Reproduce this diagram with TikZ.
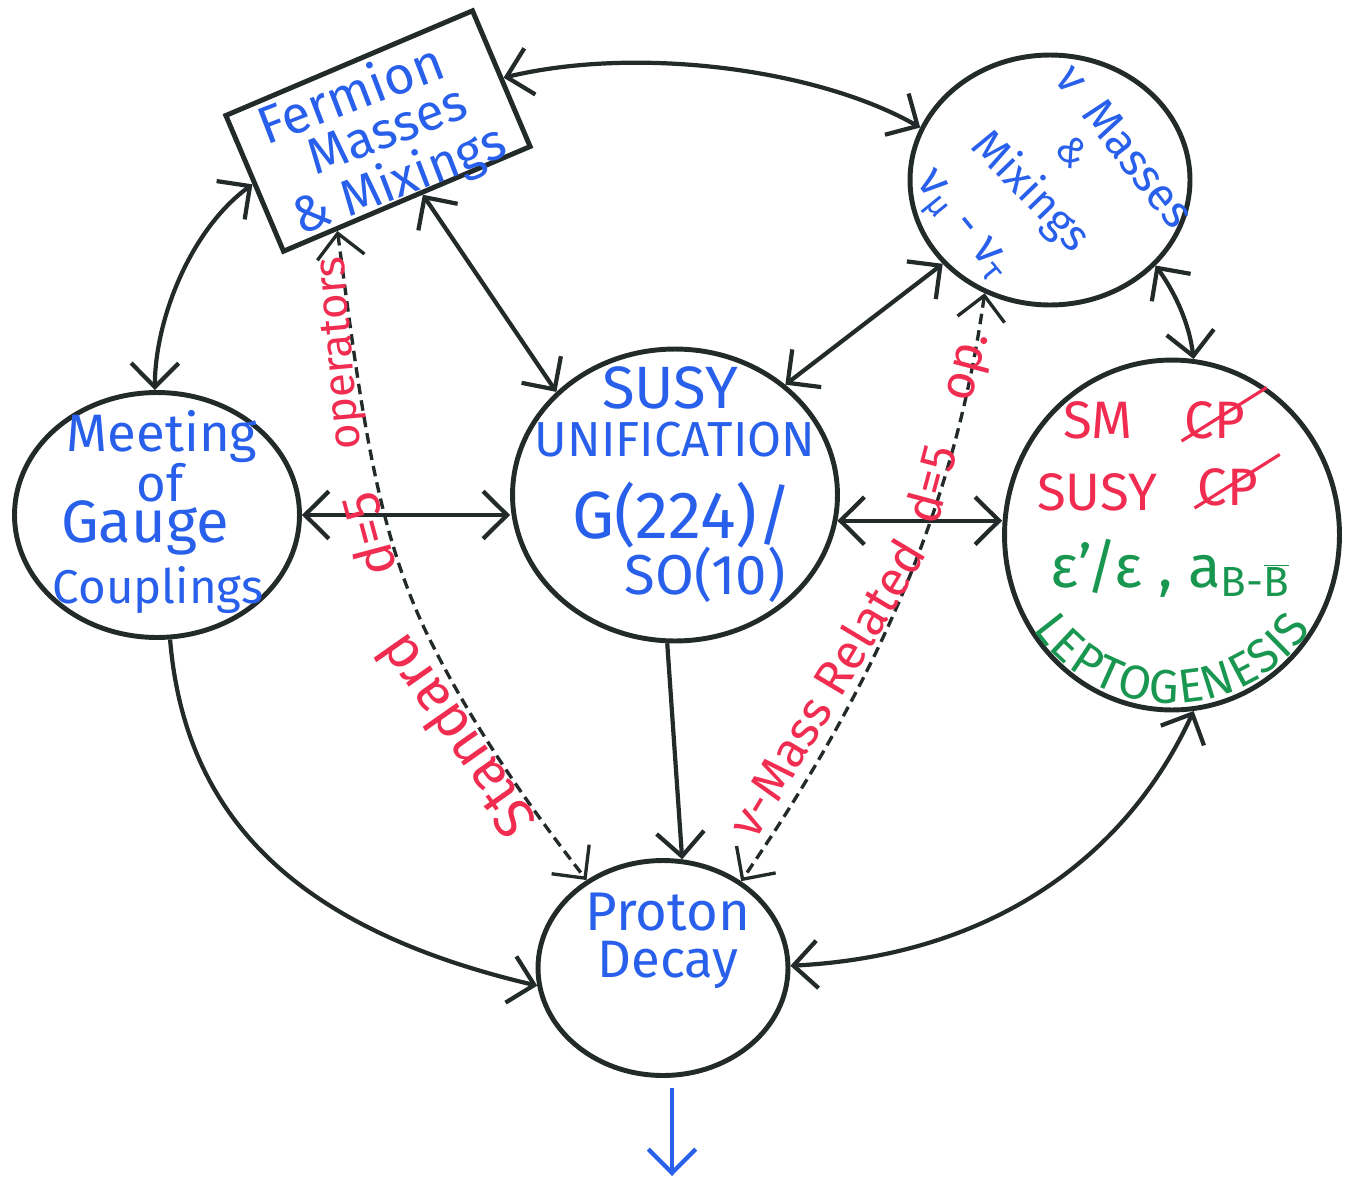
\documentclass[tikz,border=0pt]{standalone}
\usepackage{fontspec}
\setmainfont{Fira Sans}
\usetikzlibrary{arrows.meta,shapes.geometric,decorations.text,calc}
\definecolor{inkblue}{RGB}{40,95,235}
\definecolor{inkred}{RGB}{240,45,80}
\definecolor{inkgreen}{RGB}{25,150,80}
\definecolor{ink}{RGB}{35,42,42}
\newcommand\fsz[1]{\fontsize{#1}{#1}\selectfont}
\begin{document}
\begin{tikzpicture}[x=0.02cm,y=-0.02cm,
  >={Straight Barb[length=4.8mm,width=9.5mm]},
  bubble/.style={draw=ink,line width=2.8pt,ellipse,inner sep=0pt},
  boxed/.style={draw=ink,line width=2.8pt,rectangle,inner sep=0pt},
  link/.style={draw=ink,line width=2.4pt},
  dlink/.style={draw=ink,line width=1.9pt,dash pattern=on 6pt off 3.5pt},
  bt/.style={text=inkblue,inner sep=0pt},
  rt/.style={text=inkred,inner sep=0pt},
  gt/.style={text=inkgreen,inner sep=0pt},
  outarrow/.style={draw=inkblue,line width=2.4pt,->}
]
\useasboundingbox (0,0) rectangle (1363,1180);

% main nodes
\node[boxed,minimum width=5.36cm,minimum height=2.95cm,rotate=23] (ferm) at (378,131) {};
\node[bubble,minimum width=5.6cm,minimum height=5cm] (nu) at (1050,180) {};
\node[bubble,minimum width=6.5cm,minimum height=5.84cm] (susy) at (675,495) {};
\node[bubble,minimum width=5.7cm,minimum height=4.9cm] (meet) at (157,515) {};
\node[bubble,minimum width=6.7cm,minimum height=7cm] (cp) at (1172,535) {};
\node[bubble,minimum width=5cm,minimum height=4.3cm] (prot) at (663,968) {};

% fermion texts
\node[bt,rotate=21,font=\fsz{30}] (f1) at (350,92) {Fermion};
\node[bt,rotate=21,font=\fsz{29}] (f2) at (387,130) {Masses};
\node[bt,rotate=21,font=\fsz{29}] (f3) at (400,182) {\& Mixings};

% neutrino texts
\node[bt,rotate=-52,font=\fsz{26}] (n1) at (1125,146) {ν\enspace Masses};
\node[bt,rotate=-50,font=\fsz{22}] (n2) at (1073,152) {\&};
\node[bt,rotate=-46,font=\fsz{25}] (n3) at (1030,192) {Mixings};
\node[bt,rotate=-51,font=\fsz{27}] (n4) at (960,228) {ν\textsubscript{μ} - ν\textsubscript{τ}};

% susy texts
\node[bt,font=\fsz{34}] (s1) at (670,388) {SUSY};
\node[bt,font=\fsz{28}] (s2) at (675,440) {UNIFICATION};
\node[bt,font=\fsz{38}] (s3) at (682,515) {G(224)/};
\node[bt,font=\fsz{32}] (s4) at (705,575) {SO(10)};

% meeting texts
\node[bt,font=\fsz{30}] (m1) at (162,437) {Meeting};
\node[bt,font=\fsz{29}] (m2) at (160,483) {of};
\node[bt,font=\fsz{34}] (m3) at (145,528) {Gauge};
\node[bt,font=\fsz{27}] (m4) at (158,590) {Couplings};

% CP texts
\node[rt,font=\fsz{30}] (c1) at (1098,420) {SM};
\node[rt,font=\fsz{30}] (c2) at (1215,420) {CP};
\node[rt,font=\fsz{30}] (c3) at (1097,492) {SUSY};
\node[rt,font=\fsz{30}] (c4) at (1228,487) {CP};
\draw[inkred,line width=1.8pt] ($(c2.south west)!-0.05!(c2.north east)$) -- ($(c2.south west)!1.35!(c2.north east)$);
\draw[inkred,line width=1.8pt] ($(c4.south west)!-0.05!(c4.north east)$) -- ($(c4.south west)!1.35!(c4.north east)$);
\node[gt,font=\fsz{34}] (c5) at (1170,568) {ε'/ε ,\ a\raisebox{-0.3ex}{\fsz{24}B-$\overline{\hbox{B}}$}};
\begin{scope}[shift={(cp.center)},x=0.02cm,y=0.02cm]
\path[decorate,decoration={text along path,text align={fit to path},
  text={|\color{inkgreen}\fsz{27}|LEPTOGENESIS}}]
  (214:168) arc[start angle=214,end angle=326,radius=168];
\end{scope}

% proton texts
\node[bt,font=\fsz{31}] (p1) at (668,912) {Proton};
\node[bt,font=\fsz{30}] (p2) at (668,965) {Decay};

% connectors
\draw[link,<->] (ferm.east) .. controls (640,45) and (820,70) .. (nu.158);
\draw[link,<->] (ferm.west) .. controls (190,230) and (155,320) .. (meet.91);
\draw[link,<->] ($(ferm.south)!0.12!(ferm.south east)$) -- (susy.139);
\draw[link,<->] (nu.218) -- (susy.45);
\draw[link,<->] (nu.321) .. controls (1180,300) and (1190,330) .. (cp.83);
\draw[link,<->] (meet.east) -- (meet.east -| susy.west);
\draw[link,<->] (susy.-9) -- (susy.-9 -| cp.west);
\draw[link,->] (susy.267) -- (prot.80);
\draw[link,->] (meet.276) .. controls (185,820) and (300,930) .. (prot.188);
\draw[link,<->] (cp.277) .. controls (1130,850) and (1000,955) .. (prot.1.5);
\draw[dlink,<->] ($(ferm.south west)!0.22!(ferm.south east)$) .. controls (360,400) and (375,530) .. (430,640) .. controls (480,740) and (540,820) .. (prot.131);
\draw[dlink,<->] (nu.240) .. controls (960,470) and (900,650) .. (prot.48);

% dashed labels
\node[rt,rotate=95,font=\fsz{25}] (lo1) at (342,353) {operators};
\node[rt,rotate=105,font=\fsz{30}] (lo2) at (368,535) {d=5};
\node[rt,rotate=125,font=\fsz{32}] (lo3) at (455,737) {Standard};
\node[rt,rotate=59,font=\fsz{28}] (ro1) at (826,688) {ν-Mass Related};
\node[rt,rotate=75,font=\fsz{28}] (ro2) at (950,428) {d=5\quad op.};

% outgoing arrow
\coordinate (out) at (672,1176);
\draw[outarrow] ($(prot.south)+(9,10)$) -- (out);
\end{tikzpicture}
\end{document}
